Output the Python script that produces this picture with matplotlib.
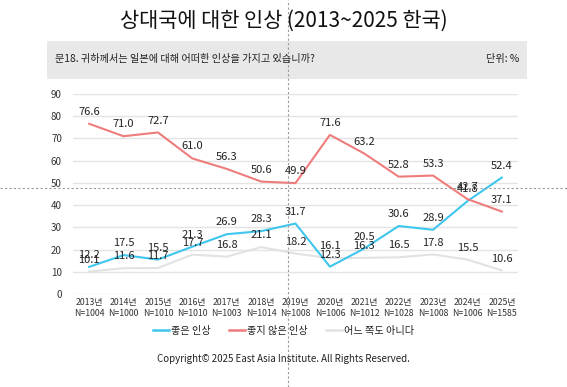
import matplotlib
matplotlib.use("Agg")
import matplotlib.pyplot as plt
from matplotlib.patches import Rectangle
from matplotlib.lines import Line2D

plt.rcParams['font.family'] = ['Noto Sans CJK KR', 'DejaVu Sans']

# data
years = ['2013', '2014', '2015', '2016', '2017', '2018', '2019',
         '2020', '2021', '2022', '2023', '2024', '2025']
sample_n = [1004, 1000, 1010, 1010, 1003, 1014, 1008,
            1006, 1012, 1028, 1008, 1006, 1585]
good = [12.2, 17.5, 15.5, 21.3, 26.9, 28.3, 31.7, 12.3, 20.5, 30.6, 28.9, 41.8, 52.4]
bad = [76.6, 71.0, 72.7, 61.0, 56.3, 50.6, 49.9, 71.6, 63.2, 52.8, 53.3, 42.7, 37.1]
neither = [10.1, 11.6, 11.7, 17.7, 16.8, 21.1, 18.2, 16.1, 16.3, 16.5, 17.8, 15.5, 10.6]

series_names = ['좋은 인상', '좋지 않은 인상', '어느 쪽도 아니다']
series_colors = ['#3EC6EE', '#EF7C7C', '#E2E2E2']

W, H = 567, 387
fig = plt.figure(figsize=(W / 100, H / 100), dpi=100)

# title and question box
fig.text(0.5, 1 - 21 / H, '상대국에 대한 인상 (2013~2025 한국)', ha='center', va='center',
         fontsize=15, fontweight='medium', color='#111111')
fig.patches.append(Rectangle((47 / W, 1 - 79 / H), 480 / W, 38 / H,
                             transform=fig.transFigure, facecolor='#E8E8E8',
                             edgecolor='none', zorder=0))
fig.text(55 / W, 1 - 59 / H, '문18. 귀하께서는 일본에 대해 어떠한 인상을 가지고 있습니까?',
         ha='left', va='center', fontsize=7.3, color='#222222')
fig.text(519 / W, 1 - 59 / H, '단위: %', ha='right', va='center',
         fontsize=7.3, color='#222222')

ax = fig.add_axes([73 / W, 1 - 294 / H, 445 / W, 200 / H])
x = list(range(len(years)))
all_series = [good, bad, neither]
for vals, name, col, z in zip(all_series, series_names, series_colors, [3, 3, 2]):
    ax.plot(x, vals, color=col, lw=1.5, zorder=z)
    for xi, v in zip(x, vals):
        ax.annotate(f'{v:.1f}', (xi, v), xytext=(0, 5), textcoords='offset points',
                    ha='center', va='bottom', fontsize=8, color='#222222', zorder=5,
                    annotation_clip=False)

ax.set_xlim(-0.47, 12.47)
ax.set_ylim(0, 90)
ax.set_yticks(range(0, 91, 10))
ax.grid(axis='y', color='#E4E4E4', lw=1)
ax.set_axisbelow(True)
for s in ax.spines.values():
    s.set_visible(False)
ax.tick_params(axis='both', length=0, labelsize=7, colors='#333333')
ax.tick_params(axis='y', pad=8)
ax.set_xticks(x)
ax.set_xticklabels([f'{y}년\nN={n}' for y, n in zip(years, sample_n)],
                   linespacing=1.25, fontsize=6.3)
ax.tick_params(axis='x', pad=3)

# legend
handles = [Line2D([], [], color=c, lw=1.8) for c in series_colors]
fig.legend(handles, series_names, loc='center', bbox_to_anchor=(0.5, 1 - 331 / H),
           ncol=3, frameon=False, fontsize=7.3, handlelength=1.6, handletextpad=0.2,
           columnspacing=1.8, labelcolor='#222222')

fig.text(0.5, 1 - 359 / H, 'Copyright© 2025 East Asia Institute. All Rights Reserved.',
         ha='center', va='center', fontsize=7, color='#222222')

# hover crosshair seen on the reference
fig.add_artist(Line2D([288 / W, 288 / W], [0, 1], transform=fig.transFigure,
                      color='#999999', lw=0.8, ls=(0, (2, 2))))
fig.add_artist(Line2D([0, 1], [1 - 188 / H, 1 - 188 / H], transform=fig.transFigure,
                      color='#999999', lw=0.8, ls=(0, (2, 2))))

fig.savefig('out.png', dpi=100)
